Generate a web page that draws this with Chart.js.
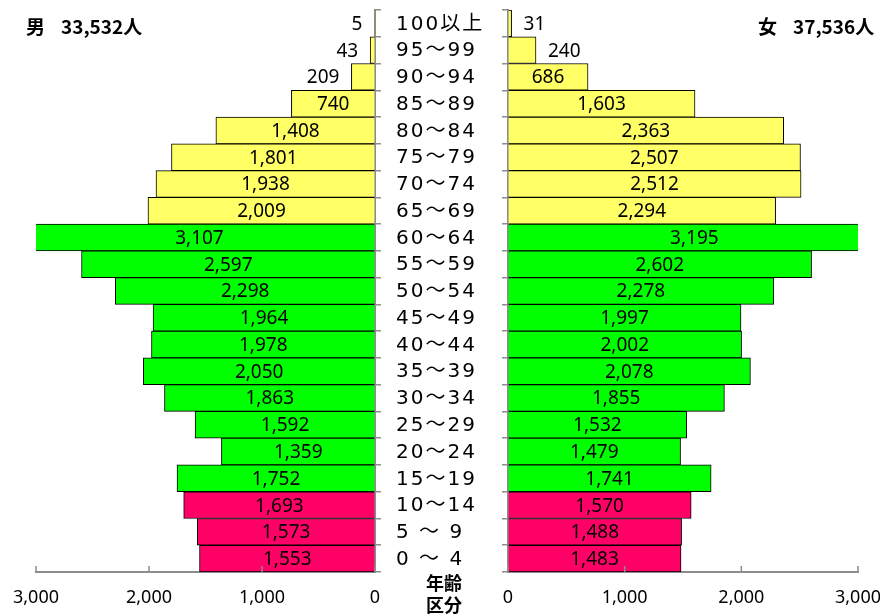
<!DOCTYPE html>
<html><head><meta charset="utf-8">
<script src="https://cdn.jsdelivr.net/npm/chart.js@4.4.0/dist/chart.umd.min.js"></script>
<style>
html,body{margin:0;padding:0;background:#fff;width:880px;height:614px;overflow:hidden}
canvas{position:absolute;left:0;top:0}
.t{position:absolute;font-family:"Noto Sans CJK JP";font-weight:bold;color:#000;white-space:nowrap;line-height:1}
</style></head><body>
<canvas id="m" width="880" height="614"></canvas>
<canvas id="f" width="880" height="614"></canvas>
<div class="t" id="tm" style="left:26px;top:16px;font-size:19px"></div>
<div class="t" id="tf" style="left:758px;top:16px;font-size:19px"></div>
<div class="t" style="left:426px;top:573px;font-size:18px">年齢</div>
<div class="t" style="left:426px;top:595px;font-size:18px">区分</div>
<script>
const categories = ['100以上','95～99','90～94','85～89','80～84','75～79','70～74','65～69','60～64','55～59','50～54','45～49','40～44','35～39','30～34','25～29','20～24','15～19','10～14','5 ～ 9','0 ～ 4'];
const maleValues = [5,43,209,740,1408,1801,1938,2009,3107,2597,2298,1964,1978,2050,1863,1592,1359,1752,1693,1573,1553];
const femaleValues = [31,240,686,1603,2363,2507,2512,2294,3195,2602,2278,1997,2002,2078,1855,1532,1479,1741,1570,1488,1483];
const xTickValues = [0,1000,2000,3000];
const maleTitle = ['男','33,532人'];
const femaleTitle = ['女','37,536人'];

document.getElementById('tm').innerHTML = maleTitle[0] + '<span style="margin-left:16px">' + maleTitle[1] + '</span>';
document.getElementById('tf').innerHTML = femaleTitle[0] + '<span style="margin-left:16px">' + femaleTitle[1] + '</span>';

function barColor(i){
  const idx = categories.length - 1 - i;
  if (idx <= 2) return '#FF0066';
  if (idx <= 12) return '#00FF00';
  return '#FFFF66';
}
const colors = categories.map((c,i)=>barColor(i));
const AXIS = '#8c8c8c';

const labelPlugin = {
  id: 'lbl',
  afterDatasetsDraw(chart, args, opts) {
    const ctx = chart.ctx;
    const meta = chart.getDatasetMeta(0);
    const xs = chart.scales.x;
    const vals = chart.data.datasets[0].data;
    ctx.save();
    ctx.font = '19px "Noto Sans"';
    ctx.fillStyle = '#000';
    ctx.textBaseline = 'middle';
    vals.forEach((v, i) => {
      const txt = v.toLocaleString('en-US');
      const w = ctx.measureText(txt).width;
      const x0 = xs.getPixelForValue(0), x1 = xs.getPixelForValue(v);
      const y = meta.data[i].y + 1;
      if (Math.abs(x1 - x0) < w + 6) {
        const dir = Math.sign(x1 - x0);
        ctx.textAlign = dir < 0 ? 'right' : 'left';
        ctx.fillText(txt, x1 + dir * 12, y);
      } else {
        ctx.textAlign = 'center';
        ctx.fillText(txt, xs.getPixelForValue(v / 2), y);
      }
    });
    ctx.strokeStyle = AXIS;
    ctx.lineWidth = 1.5;
    const b = chart.chartArea.bottom;
    xTickValues.forEach(t => {
      const x = xs.getPixelForValue(t);
      ctx.beginPath(); ctx.moveTo(x, b); ctx.lineTo(x, b - 6); ctx.stroke();
    });
    if (opts.center) {
      ctx.font = '20px "DejaVu Sans", "Noto Sans CJK JP"';
      try { ctx.letterSpacing = '2px'; } catch(e) {}
      ctx.textAlign = 'left';
      categories.forEach((c, i) => ctx.fillText(c, 396, meta.data[i].y + 1));
    }
    ctx.restore();
  }
};

function makeChart(id, values, isLeft) {
  return new Chart(document.getElementById(id), {
    type: 'bar',
    data: {
      labels: categories,
      datasets: [{
        data: values,
        backgroundColor: colors,
        borderColor: '#000',
        borderWidth: 1,
        barPercentage: 1,
        categoryPercentage: 1
      }]
    },
    plugins: [labelPlugin],
    options: {
      indexAxis: 'y',
      responsive: false,
      animation: false,
      devicePixelRatio: 1,
      layout: { padding: isLeft ? {left: 36, right: 499, top: 10, bottom: 0} : {left: 502, right: 22, top: 10, bottom: 0} },
      plugins: { legend: {display: false}, tooltip: {enabled: false}, lbl: {center: isLeft} },
      scales: {
        x: {
          type: 'linear', min: 0, max: 3000, reverse: isLeft,
          afterBuildTicks: s => { s.ticks = xTickValues.map(v => ({value: v})); },
          grid: {display: true, drawOnChartArea: false, drawTicks: false},
          border: {display: true, color: AXIS, width: 2},
          ticks: {font: {family: 'Noto Sans', size: 18}, color: '#000', padding: 15,
                  maxRotation: 0, callback: v => v.toLocaleString('en-US')},
          afterFit: s => { s.height = 42; s.paddingLeft = 0; s.paddingRight = 0; }
        },
        y: {
          position: isLeft ? 'right' : 'left',
          grid: {display: true, drawOnChartArea: false, drawTicks: true, tickLength: 6, color: AXIS, lineWidth: 1.5},
          border: {display: true, color: AXIS, width: 2},
          ticks: {display: false},
          afterFit: s => { s.width = 6; s.paddingTop = 0; s.paddingBottom = 0; }
        }
      }
    }
  });
}
makeChart('m', maleValues, true);
makeChart('f', femaleValues, false);
</script>
</body></html>
